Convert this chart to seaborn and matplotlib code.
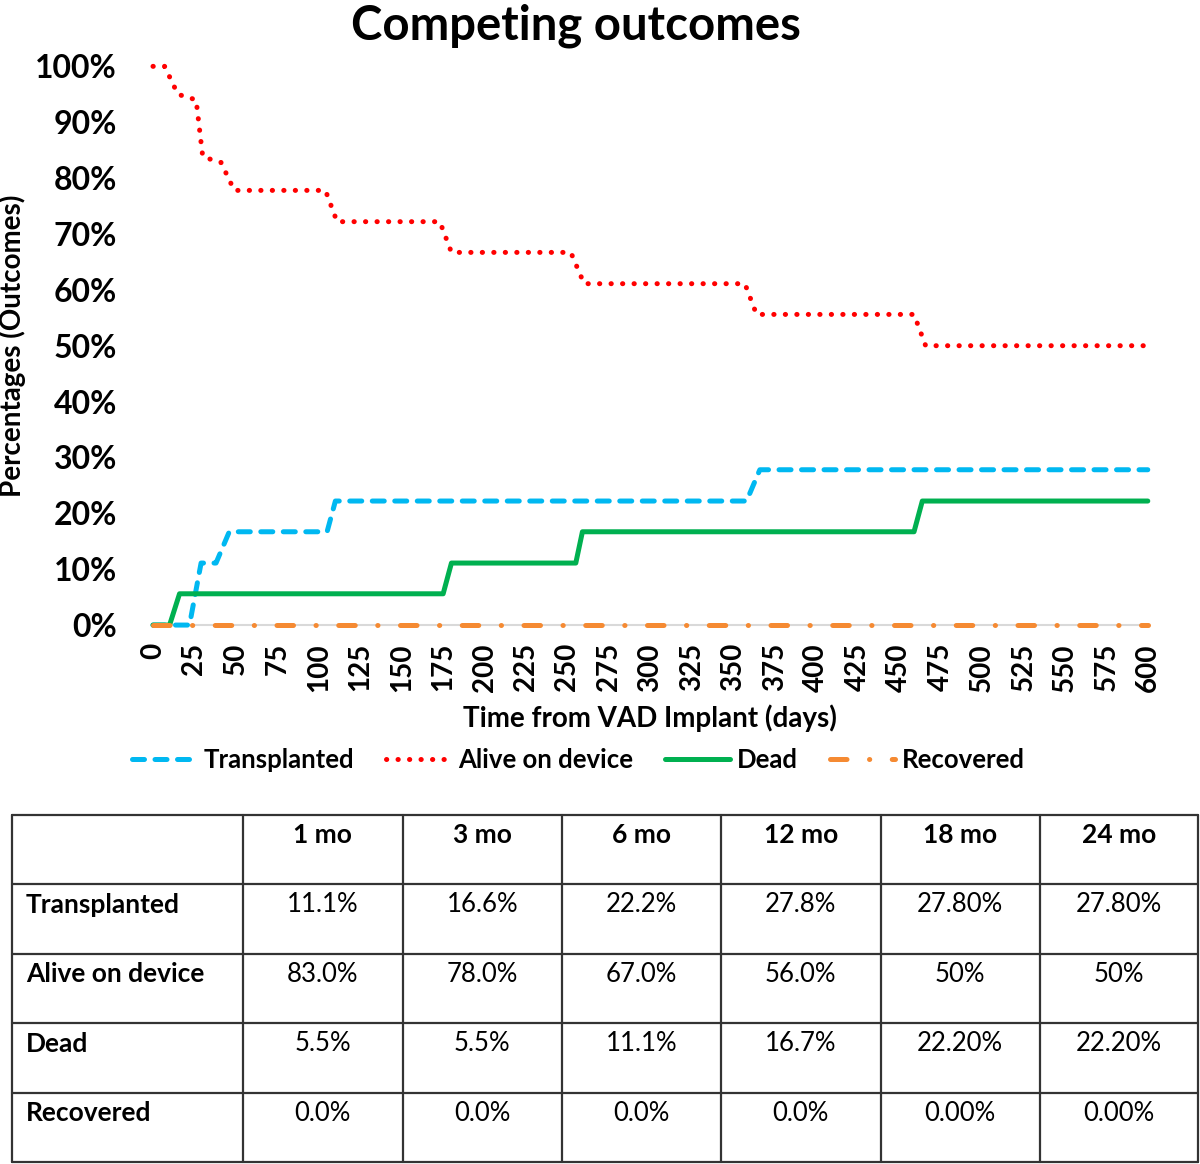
import matplotlib
matplotlib.use("Agg")
import matplotlib.pyplot as plt
import seaborn as sns
import pandas as pd

# curve data (days, percent)
transplanted_days = [0, 22, 29, 38, 46, 105, 110, 358, 366, 600]
transplanted_pct = [0, 0, 11.1, 11.1, 16.7, 16.7, 22.2, 22.2, 27.8, 27.8]

alive_days = [0, 7, 15, 26, 30, 41, 49, 104, 111, 173, 180, 252, 260, 357, 364, 459, 466, 600]
alive_pct = [100, 100, 95, 94, 83.8, 82.8, 77.8, 77.8, 72.2, 72.2, 66.7, 66.7, 61.1, 61.1,
             55.6, 55.6, 50, 50]

dead_days = [0, 10, 16, 175, 180, 255, 259, 459, 464, 600]
dead_pct = [0, 0, 5.6, 5.6, 11.1, 11.1, 16.7, 16.7, 22.2, 22.2]

recovered_days = [0, 600]
recovered_pct = [0, 0]

# summary table
table_cols = ["1 mo", "3 mo", "6 mo", "12 mo", "18 mo", "24 mo"]
table_rows = ["Transplanted", "Alive on device", "Dead", "Recovered"]
table_vals = [
    ["11.1%", "16.6%", "22.2%", "27.8%", "27.80%", "27.80%"],
    ["83.0%", "78.0%", "67.0%", "56.0%", "50%", "50%"],
    ["5.5%", "5.5%", "11.1%", "16.7%", "22.20%", "22.20%"],
    ["0.0%", "0.0%", "0.0%", "0.0%", "0.00%", "0.00%"],
]

sns.set_style("white")
plt.rcParams['font.family'] = ['Lato', 'DejaVu Sans']
plt.rcParams['text.color'] = 'black'
plt.rcParams['xtick.color'] = 'black'
plt.rcParams['ytick.color'] = 'black'
plt.rcParams['axes.labelcolor'] = 'black'

fig = plt.figure(figsize=(12, 11.64), dpi=100)
ax = fig.add_axes([0.1275, 0.463, 0.829, 0.480])

series = [
    ("Transplanted", transplanted_days, transplanted_pct, "#00B8F1", (0, (2.4, 2.1))),
    ("Alive on device", alive_days, alive_pct, "#FF0000", (0, (0.05, 2.25))),
    ("Dead", dead_days, dead_pct, "#00B050", "-"),
    ("Recovered", recovered_days, recovered_pct, "#F58A32", (0, (3.3, 4.5, 0.05, 4.5))),
]

for name, xs, ys, color, ls in series:
    df = pd.DataFrame({"days": xs, "pct": ys})
    sns.lineplot(data=df, x="days", y="pct", ax=ax, color=color, sort=False,
                 estimator=None, linewidth=3.6, label=name)
    line = ax.lines[-1]
    line.set_linestyle(ls)
    line.set_dash_capstyle("round")
    line.set_solid_capstyle("round")
    line.set_clip_on(False)

ax.set_xlim(0, 600)
ax.set_ylim(0, 100)
ax.set_xticks(range(0, 601, 25))
ax.set_yticks(range(0, 101, 10))
ax.set_yticklabels([f"{v}%" for v in range(0, 101, 10)])
ax.tick_params(axis="x", labelrotation=90, labelsize=20, length=0, pad=13)
ax.tick_params(axis="y", labelsize=23, length=0, pad=26)
for lab in ax.get_xticklabels() + ax.get_yticklabels():
    lab.set_fontweight("bold")

for side in ["top", "right", "left"]:
    ax.spines[side].set_visible(False)
ax.spines["bottom"].set_color("#D9D9D9")
ax.spines["bottom"].set_linewidth(1.5)
ax.spines["bottom"].set_zorder(0)

ax.set_xlabel("Time from VAD Implant (days)", fontsize=20, fontweight="bold", labelpad=9)
ax.set_ylabel("Percentages (Outcomes)", fontsize=20, fontweight="bold")
ax.yaxis.set_label_coords(-0.128, 0.5)
ax.set_title("Competing outcomes", fontsize=34, fontweight="bold", pad=19, x=0.425)

handles, labels = ax.get_legend_handles_labels()
ax.legend_.remove()
leg = fig.legend(handles, labels, loc="center", bbox_to_anchor=(0.482, 0.347), ncol=4,
                 frameon=False, handlelength=2.5, columnspacing=1.25, handletextpad=0.3,
                 prop={"size": 18.5, "weight": "bold"})

# table drawn in its own axes, pixel-like layout units
tax = fig.add_axes([0.01, 0.0017, 0.988, 0.2985])
col_edges = [0, 231, 391, 550, 709, 869, 1028, 1186]
n_rows = len(table_rows) + 1
tax.set_xlim(0, col_edges[-1])
tax.set_ylim(n_rows, 0)
tax.axis("off")
for xe in col_edges:
    tax.plot([xe, xe], [0, n_rows], color="#333333", lw=1.6, clip_on=False)
for r in range(n_rows + 1):
    tax.plot([0, col_edges[-1]], [r, r], color="#333333", lw=1.6, clip_on=False)

for j, col in enumerate(table_cols):
    cx = (col_edges[j + 1] + col_edges[j + 2]) / 2
    tax.text(cx, 0.3, col, ha="center", va="center", fontsize=19, fontweight="bold")
for i, row in enumerate(table_rows):
    tax.text(14, i + 1.3, row, ha="left", va="center", fontsize=19, fontweight="bold")
    for j, val in enumerate(table_vals[i]):
        cx = (col_edges[j + 1] + col_edges[j + 2]) / 2
        tax.text(cx, i + 1.3, val, ha="center", va="center", fontsize=18.5)

fig.savefig("out.png", dpi=100)
